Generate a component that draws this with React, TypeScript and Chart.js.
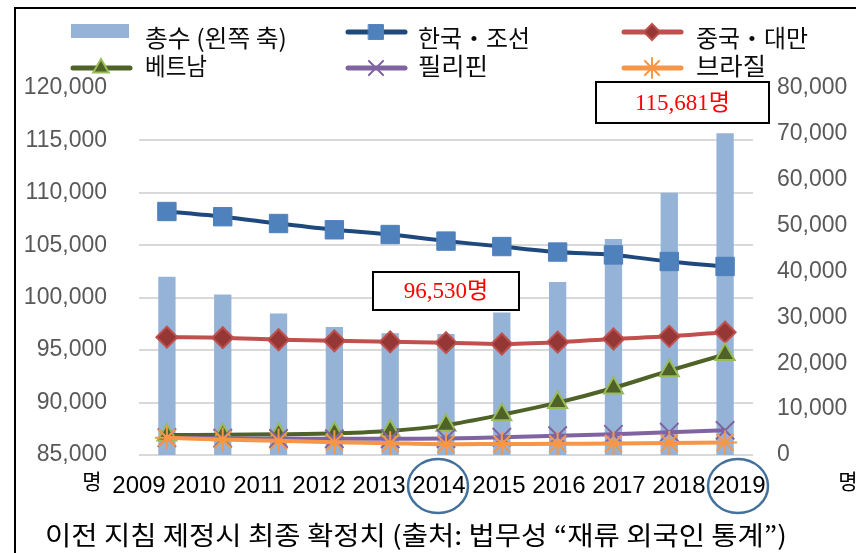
import React, { useEffect, useRef } from 'react';
import { Chart, registerables } from 'chart.js';
import { drawPoint } from 'chart.js/helpers';

Chart.register(...registerables);

const years = ['2009', '2010', '2011', '2012', '2013', '2014', '2015', '2016', '2017', '2018', '2019'];
const yearNums = [2009, 2010, 2011, 2012, 2013, 2014, 2015, 2016, 2017, 2018, 2019];
const total = [102000, 100300, 98500, 97200, 96600, 96530, 98600, 101500, 105600, 110000, 115681];
const korea = [53080, 51940, 50460, 49090, 48060, 46630, 45440, 44240, 43610, 42180, 41100];
const china = [25690, 25570, 25120, 24890, 24660, 24490, 24200, 24600, 25290, 25860, 26770];
const vietnam = [4340, 4400, 4510, 4740, 5250, 6510, 8790, 11420, 14610, 18380, 21920];
const philippines = [3770, 3650, 3600, 3540, 3540, 3600, 3880, 4220, 4510, 4970, 5370];
const brazil = [3770, 3370, 3080, 2800, 2570, 2340, 2400, 2450, 2510, 2630, 2740];

const leftTicks = { min: 85000, max: 120000, step: 5000 };
const rightTicks = { min: 0, max: 80000, step: 10000 };

const seriesNames = ['총수 (왼쪽 축)', '한국・조선', '중국・대만', '베트남', '필리핀', '브라질'];
const noteTotal2019 = '115,681명';
const noteTotal2014 = '96,530명';
const unitLabel = '명';
const captionText = '이전 지침 제정시 최종 확정치 (출처: 법무성 “재류 외국인 통계”)';
const circledYears = [2014, 2019];

const KFONT = "'Noto Sans CJK KR', 'Noto Sans', sans-serif";

function fillStretched(ctx: CanvasRenderingContext2D, text: string, x: number, y: number, width: number) {
  const m = ctx.measureText(text).width;
  ctx.save();
  ctx.translate(x, y);
  ctx.scale(width / m, 1);
  ctx.textAlign = 'left';
  ctx.fillText(text, 0, 0);
  ctx.restore();
}

const overlayPlugin = {
  id: 'overlay',
  afterDraw(chart: any) {
    const ctx = chart.ctx as CanvasRenderingContext2D;
    ctx.save();

    // frame
    ctx.strokeStyle = '#000';
    ctx.lineWidth = 2;
    ctx.beginPath();
    ctx.moveTo(15, 560);
    ctx.lineTo(15, 8);
    ctx.lineTo(860, 8);
    ctx.stroke();

    // legend
    const cols = [71, 346, 622];
    const textX = [145, 418, 696];
    const rows = [32, 68];
    const textW = [142, 112, 112, 62, 70, 70];
    const items = [
      { col: 0, row: 0, kind: 'bar', color: '#95B3D7' },
      { col: 1, row: 0, kind: 'line', color: '#1F497D', ps: 'rect', r: 10.5, fill: '#4F81BD', border: '#4F81BD', bw: 1 },
      { col: 2, row: 0, kind: 'line', color: '#C0504D', ps: 'rectRot', r: 8, fill: '#953735', border: '#C0504D', bw: 2 },
      { col: 0, row: 1, kind: 'line', color: '#4F6228', ps: 'triangle', r: 9, fill: '#4F6228', border: '#9BBB59', bw: 2 },
      { col: 1, row: 1, kind: 'line', color: '#8064A2', ps: 'crossRot', r: 10, fill: '#8064A2', border: '#8064A2', bw: 2 },
      { col: 2, row: 1, kind: 'line', color: '#F79646', ps: 'star', r: 10, fill: '#F79646', border: '#F79646', bw: 2 },
    ];
    items.forEach((it: any, i) => {
      const x0 = cols[it.col];
      const y = rows[it.row];
      if (it.kind === 'bar') {
        ctx.fillStyle = it.color;
        ctx.fillRect(x0, 24, 58, 14);
      } else {
        ctx.strokeStyle = it.color;
        ctx.lineWidth = 5;
        ctx.lineCap = 'round';
        ctx.beginPath();
        ctx.moveTo(x0 + 2, y);
        ctx.lineTo(x0 + 59, y);
        ctx.stroke();
        ctx.fillStyle = it.fill;
        ctx.strokeStyle = it.border;
        ctx.lineWidth = it.bw;
        drawPoint(ctx, { pointStyle: it.ps, rotation: 0, radius: it.r, borderWidth: it.bw } as any, x0 + 30, y);
      }
      ctx.fillStyle = '#0D0D0D';
      ctx.font = `24px ${KFONT}`;
      ctx.textBaseline = 'middle';
      fillStretched(ctx, seriesNames[i], textX[it.col], it.row === 0 ? 38 : 66, textW[i]);
    });

    // annotation boxes
    const boxes = [
      { x: 596, y: 82, w: 173, h: 41, text: noteTotal2019 },
      { x: 373, y: 272, w: 146, h: 38, text: noteTotal2014 },
    ];
    boxes.forEach((b) => {
      ctx.fillStyle = '#FFFFFF';
      ctx.fillRect(b.x, b.y, b.w, b.h);
      ctx.strokeStyle = '#000';
      ctx.lineWidth = 2;
      ctx.strokeRect(b.x, b.y, b.w, b.h);
      ctx.fillStyle = '#FF0000';
      ctx.font = `23px 'Liberation Serif', 'Noto Sans CJK KR', serif`;
      ctx.textAlign = 'center';
      ctx.textBaseline = 'middle';
      ctx.fillText(b.text, b.x + b.w / 2, b.y + b.h / 2 + 1);
    });

    // unit labels
    ctx.fillStyle = '#000';
    ctx.font = `21px ${KFONT}`;
    ctx.textAlign = 'center';
    ctx.textBaseline = 'middle';
    ctx.fillText(unitLabel, 92, 481);
    ctx.fillText(unitLabel, 848, 481);

    // caption
    ctx.font = `26px ${KFONT}`;
    ctx.textBaseline = 'middle';
    fillStretched(ctx, captionText, 45, 535, 742);

    // circles around year labels
    const x2 = chart.scales.x2;
    ctx.strokeStyle = '#41719C';
    ctx.lineWidth = 2.5;
    circledYears.forEach((yr) => {
      const cx = x2.getPixelForValue(yr) - 1;
      ctx.beginPath();
      ctx.ellipse(cx, 486, 30, 27, 0, 0, Math.PI * 2);
      ctx.stroke();
    });

    ctx.restore();
  },
};

export default function App() {
  const ref = useRef<HTMLCanvasElement | null>(null);

  useEffect(() => {
    if (!ref.current) return;
    const lineBase = {
      type: 'line' as const,
      yAxisID: 'y1',
      xAxisID: 'x',
      borderWidth: 4,
      tension: 0.3,
      fill: false,
      pointBorderWidth: 2,
    };
    const chart = new Chart(ref.current, {
      type: 'bar',
      data: {
        labels: years,
        datasets: [
          {
            ...lineBase,
            label: seriesNames[1],
            data: korea,
            borderColor: '#1F497D',
            pointStyle: 'rect',
            pointRadius: 13,
            pointBackgroundColor: '#4F81BD',
            pointBorderColor: '#4F81BD',
            pointBorderWidth: 1,
            order: 5,
          },
          {
            ...lineBase,
            label: seriesNames[2],
            data: china,
            borderColor: '#C0504D',
            pointStyle: 'rectRot',
            pointRadius: 10.5,
            pointBackgroundColor: '#953735',
            pointBorderColor: '#C0504D',
            order: 4,
          },
          {
            ...lineBase,
            label: seriesNames[3],
            data: vietnam,
            borderColor: '#4F6228',
            pointStyle: 'triangle',
            pointRadius: 11,
            pointBackgroundColor: '#4F6228',
            pointBorderColor: '#9BBB59',
            order: 3,
          },
          {
            ...lineBase,
            label: seriesNames[4],
            data: philippines,
            borderColor: '#8064A2',
            pointStyle: 'crossRot',
            pointRadius: 13,
            pointBackgroundColor: '#8064A2',
            pointBorderColor: '#8064A2',
            order: 2,
          },
          {
            ...lineBase,
            label: seriesNames[5],
            data: brazil,
            borderColor: '#F79646',
            pointStyle: 'star',
            pointRadius: 12,
            pointBackgroundColor: '#F79646',
            pointBorderColor: '#F79646',
            order: 1,
          },
          {
            type: 'bar' as const,
            label: seriesNames[0],
            data: total,
            yAxisID: 'y',
            xAxisID: 'x',
            backgroundColor: '#95B3D7',
            barPercentage: 0.31,
            categoryPercentage: 1,
            order: 10,
          },
        ] as any,
      },
      options: {
        responsive: false,
        animation: false,
        events: [],
        layout: { padding: { top: 88, left: 0, right: 0, bottom: 0 } },
        plugins: {
          legend: { display: false },
          tooltip: { enabled: false },
          title: { display: false },
        },
        scales: {
          x: {
            type: 'category',
            display: false,
            offset: true,
          },
          x2: {
            type: 'linear',
            position: 'bottom',
            offset: false,
            min: 2009,
            max: 2019.233,
            grid: { display: false, drawTicks: false, offset: false },
            border: { display: false },
            afterBuildTicks: (axis: any) => {
              axis.ticks = yearNums.map((v) => ({ value: v }));
            },
            afterFit: (axis: any) => {
              axis.height = 98;
            },
            ticks: {
              autoSkip: false,
              maxRotation: 0,
              minRotation: 0,
              padding: 17,
              color: '#000000',
              font: { family: "'Liberation Sans', Arial, sans-serif", size: 24 },
              callback: (v: any) => String(v),
            },
          },
          y: {
            type: 'linear',
            position: 'left',
            min: leftTicks.min,
            max: leftTicks.max,
            afterFit: (axis: any) => {
              axis.width = 139;
            },
            grid: {
              drawTicks: false,
              lineWidth: 2,
              color: (c: any) => (c.tick && c.tick.value === leftTicks.max ? 'rgba(0,0,0,0)' : '#D9D9D9'),
            },
            border: { display: false },
            ticks: {
              stepSize: leftTicks.step,
              padding: 32,
              color: '#595959',
              font: { family: "'Liberation Sans', Arial, sans-serif", size: 23 },
              callback: (v: any) => Number(v).toLocaleString('en-US'),
            },
          },
          y1: {
            type: 'linear',
            position: 'right',
            min: rightTicks.min,
            max: rightTicks.max,
            afterFit: (axis: any) => {
              axis.width = 103;
            },
            grid: { display: false, drawTicks: false },
            border: { display: false },
            ticks: {
              stepSize: rightTicks.step,
              padding: 24,
              color: '#595959',
              font: { family: "'Liberation Sans', Arial, sans-serif", size: 23 },
              callback: (v: any) => Number(v).toLocaleString('en-US'),
            },
          },
        } as any,
      },
      plugins: [overlayPlugin],
    });
    return () => chart.destroy();
  }, []);

  return (
    <div style={{ position: 'absolute', left: 0, top: 0, width: 856, height: 553, background: '#fff', overflow: 'hidden' }}>
      <canvas ref={ref} width={856} height={553} style={{ width: 856, height: 553, display: 'block' }} />
    </div>
  );
}
